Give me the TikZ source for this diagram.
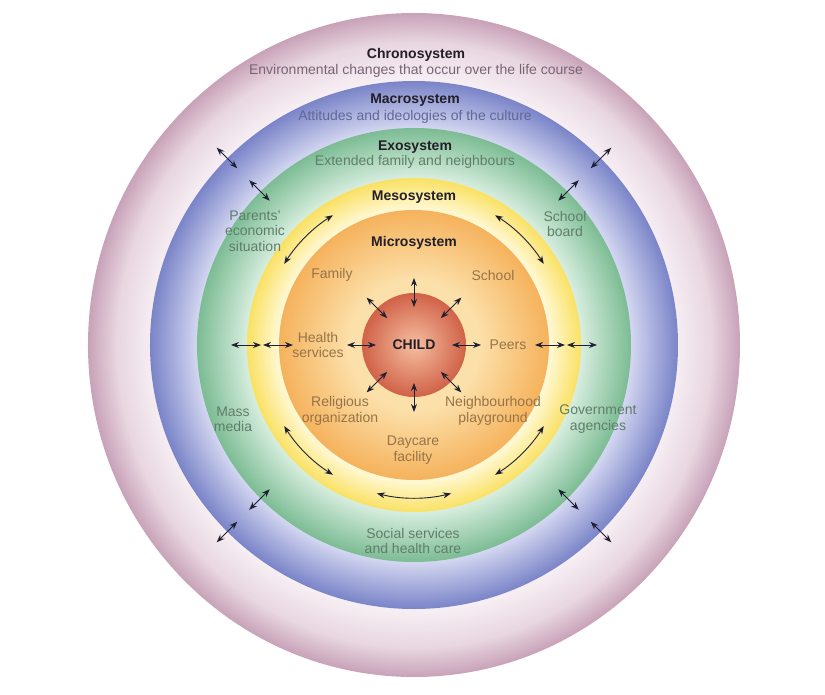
\documentclass[tikz,border=0pt]{standalone}
\usepackage{fontspec}
\setmainfont{Liberation Sans}
\usepackage{tikz}
\usetikzlibrary{arrows.meta}
\definecolor{chronoPink}{RGB}{200,162,184}
\definecolor{chronoMid}{RGB}{232,214,224}
\definecolor{chronoLight}{RGB}{246,238,243}
\definecolor{macroBlue}{RGB}{122,132,200}
\definecolor{macroLight}{RGB}{210,214,240}
\definecolor{exoGreen}{RGB}{124,188,148}
\definecolor{exoLight}{RGB}{216,238,223}
\definecolor{mesoYellow}{RGB}{250,225,100}
\definecolor{mesoLight}{RGB}{255,249,215}
\definecolor{microOrange}{RGB}{245,178,92}
\definecolor{microLight}{RGB}{252,224,170}
\definecolor{childRed}{RGB}{208,98,72}
\definecolor{childLight}{RGB}{246,190,160}
\definecolor{arrowInk}{RGB}{30,32,50}
\definecolor{titleInk}{RGB}{35,30,40}
\definecolor{chronoText}{RGB}{120,100,116}
\definecolor{macroText}{RGB}{98,104,150}
\definecolor{exoText}{RGB}{96,126,106}
\definecolor{microText}{RGB}{150,116,72}
\pgfdeclareradialshading{chronoShade}{\pgfpoint{0bp}{0bp}}{color(0bp)=(chronoLight); color(20.1bp)=(chronoLight); color(22.8bp)=(chronoMid); color(25bp)=(chronoPink); color(50bp)=(chronoPink)}
\pgfdeclareradialshading{macroShade}{\pgfpoint{0bp}{0bp}}{color(0bp)=(macroLight); color(20.6bp)=(macroLight); color(25bp)=(macroBlue); color(50bp)=(macroBlue)}
\pgfdeclareradialshading{exoShade}{\pgfpoint{0bp}{0bp}}{color(0bp)=(exoLight); color(19.2bp)=(exoLight); color(25bp)=(exoGreen); color(50bp)=(exoGreen)}
\pgfdeclareradialshading{mesoShade}{\pgfpoint{0bp}{0bp}}{color(0bp)=(mesoLight); color(20.2bp)=(mesoLight); color(25bp)=(mesoYellow); color(50bp)=(mesoYellow)}
\pgfdeclareradialshading{microShade}{\pgfpoint{0bp}{0bp}}{color(0bp)=(microLight); color(12bp)=(microLight); color(25bp)=(microOrange); color(50bp)=(microOrange)}
\pgfdeclareradialshading{childShade}{\pgfpoint{0bp}{0bp}}{color(0bp)=(childLight); color(25bp)=(childRed); color(50bp)=(childRed)}

\begin{document}
\begin{tikzpicture}[x=1pt, y=1pt,
    >={Stealth[length=8pt,width=6pt]},
    every node/.style={font=\fontsize{14}{15.5}\selectfont, align=center, inner sep=0pt},
    title/.style={font=\fontsize{14}{15.5}\selectfont\bfseries, text=titleInk},
    link/.style={<->, line width=0.9pt, draw=arrowInk}
  ]
  \fill[white] (-414,-349) rectangle (411,345);
  \useasboundingbox (-414,-349) rectangle (411,345);

  % the five systems round the child
  \shade[shading=chronoShade] (0,0) ellipse [x radius=326, y radius=332];
  \shade[shading=macroShade] (0,0) circle (264);
  \shade[shading=exoShade] (0,0) circle (217);
  \shade[shading=mesoShade] (0,0) circle (167);
  \shade[shading=microShade] (0,0) circle (135);
  \shade[shading=childShade] (0,0) circle (52);

  \node[title] (chrono) at (2,290) {Chronosystem};
  \node[text=chronoText] (chronoSub) at (2,274) {Environmental changes that occur over the life course};
  \node[title] (macro) at (1,245) {Macrosystem};
  \node[text=macroText] (macroSub) at (1,228) {Attitudes and ideologies of the culture};
  \node[title] (exo) at (1,198) {Exosystem};
  \node[text=exoText] (exoSub) at (1,183) {Extended family and neighbours};
  \node[title] (meso) at (0,148) {Mesosystem};
  \node[title] (micro) at (0,102) {Microsystem};
  \node[title] (child) at (0,0) {CHILD};

  \node[text=microText] (family) at (-82,70) {Family};
  \node[text=microText] (school) at (79,70) {School};
  \node[text=microText] (health) at (-96,0) {Health\\services};
  \node[text=microText] (peers) at (94,0) {Peers};
  \node[text=microText] (church) at (-74,-66) {Religious\\organization};
  \node[text=microText] (playground) at (79,-66) {Neighbourhood\\playground};
  \node[text=microText] (daycare) at (-1,-105) {Daycare\\facility};

  \node[text=exoText] (parents) at (-159,114) {Parents'\\economic\\situation};
  \node[text=exoText] (board) at (151,121) {School\\board};
  \node[text=exoText] (media) at (-181,-74) {Mass\\media};
  \node[text=exoText] (agencies) at (184,-74) {Government\\agencies};
  \node[text=exoText] (social) at (-1,-196) {Social services\\and health care};

  % links
  \foreach \a in {0,45,...,315} {
    \coordinate (in\a) at (\a:38);
    \coordinate (out\a) at (\a:67);
    \draw[link] (in\a) -- (out\a);
  }
  \foreach \a in {0,180} {
    \coordinate (mesoIn\a) at (\a:121);
    \coordinate (mesoOut\a) at (\a:151);
    \coordinate (exoIn\a) at (\a:153);
    \coordinate (exoOut\a) at (\a:183);
    \draw[link] (mesoIn\a) -- (mesoOut\a);
    \draw[link] (exoIn\a) -- (exoOut\a);
  }
  \foreach \a in {45,135,225,315} {
    \coordinate (macroIn\a) at (\a:204);
    \coordinate (macroOut\a) at (\a:233);
    \coordinate (chronoIn\a) at (\a:250);
    \coordinate (chronoOut\a) at (\a:279);
    \draw[link] (macroIn\a) -- (macroOut\a);
    \draw[link] (chronoIn\a) -- (chronoOut\a);
  }
  \foreach \s/\e in {122/148, 32/58, 212/238, 302/328, 256/284} {
    \coordinate (arc\s) at (\s:153);
    \draw[link] (arc\s) arc[start angle=\s, end angle=\e, radius=153];
  }
\end{tikzpicture}
\end{document}
